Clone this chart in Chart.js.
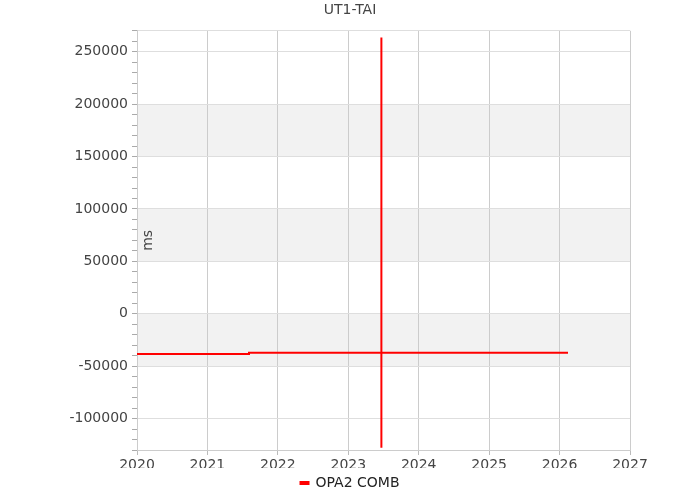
<!DOCTYPE html>
<html>
<head>
<meta charset="utf-8">
<script src="https://cdn.jsdelivr.net/npm/chart.js@4/dist/chart.umd.min.js"></script>
<style>
html,body{margin:0;padding:0;background:#fff;}
#wrap{width:700px;height:500px;}
</style>
</head>
<body>
<div id="wrap"><canvas id="c" width="700" height="500"></canvas></div>
<script>
// ---- data ----
const chartTitle = "UT1-TAI";
const seriesLabel = "OPA2 COMB";
const yUnit = "ms";
const xYears = [2020.0, 2021.59, 2021.59, 2023.47, 2023.47, 2023.47, 2023.47, 2026.12];
const yValues = [-38300, -38300, -37200, -37200, 263600, -127900, -37200, -37200];
const xMin = 2020, xMax = 2027;
const yMin = -130000, yMax = 270000;
const yMajorStep = 50000, yMinorStep = 10000;
const bandStarts = [-50000, 50000, 150000];
const bandWidth = 50000;

const FONT = "'DejaVu Sans', sans-serif";

const bandsPlugin = {
  id: 'bands',
  beforeDraw(chart) {
    const {ctx, chartArea, scales} = chart;
    const y = scales.y;
    ctx.save();
    ctx.fillStyle = '#f2f2f2';
    bandStarts.forEach(b => {
      const top = y.getPixelForValue(b + bandWidth);
      const bot = y.getPixelForValue(b);
      ctx.fillRect(chartArea.left, top, chartArea.right - chartArea.left, bot - top);
    });
    ctx.restore();
  },
  afterDraw(chart) {
    const {ctx, chartArea} = chart;
    ctx.save();
    ctx.fillStyle = '#444';
    ctx.font = "14px " + FONT;
    ctx.textAlign = 'center';
    ctx.textBaseline = 'middle';
    ctx.translate(chartArea.left + 11, (chartArea.top + chartArea.bottom) / 2);
    ctx.rotate(-Math.PI / 2);
    ctx.fillText(yUnit, 0, 0);
    ctx.restore();
  }
};

new Chart(document.getElementById('c'), {
  type: 'line',
  data: {
    datasets: [{
      label: seriesLabel,
      data: xYears.map((x, i) => ({x: x, y: yValues[i]})),
      borderColor: '#ff0000',
      backgroundColor: '#ff0000',
      borderWidth: 2,
      pointRadius: 0,
      tension: 0,
      fill: false
    }]
  },
  options: {
    responsive: false,
    animation: false,
    layout: {padding: 0},
    plugins: {
      title: {
        display: true,
        text: chartTitle,
        color: '#444',
        font: {family: FONT, size: 14, weight: 'normal'},
        padding: {top: 2, bottom: 12}
      },
      legend: {
        display: true,
        position: 'bottom',
        labels: {
          color: '#222',
          font: {family: FONT, size: 14},
          boxWidth: 8,
          boxHeight: 2,
          padding: 8
        }
      },
      tooltip: {enabled: false}
    },
    scales: {
      x: {
        type: 'linear',
        min: xMin,
        max: xMax,
        afterFit(s) { s.height = 18; },
        ticks: {
          stepSize: 1,
          color: '#444',
          font: {family: FONT, size: 14},
          padding: 2,
          callback: v => String(v)
        },
        grid: {color: '#ccc', tickColor: '#bbb', tickLength: 5},
        border: {color: '#ccc'}
      },
      y: {
        min: yMin,
        max: yMax,
        afterFit(s) { s.width = 137; },
        ticks: {
          stepSize: yMinorStep,
          autoSkip: false,
          color: '#444',
          font: {family: FONT, size: 14},
          padding: 4,
          callback: v => (v % yMajorStep === 0 ? String(v) : '')
        },
        grid: {
          color: c => (c.tick && (c.tick.value % yMajorStep === 0 || c.tick.value === yMax) ? '#dedede' : 'rgba(0,0,0,0)'),
          tickColor: '#aaa',
          tickLength: 5
        },
        border: {color: '#ccc'}
      },
      yRight: {
        position: 'right',
        min: yMin,
        max: yMax,
        afterFit(s) { s.width = 70; },
        ticks: {display: false},
        grid: {display: false, drawTicks: false},
        border: {display: false}
      }
    }
  },
  plugins: [bandsPlugin]
});
</script>
</body>
</html>
